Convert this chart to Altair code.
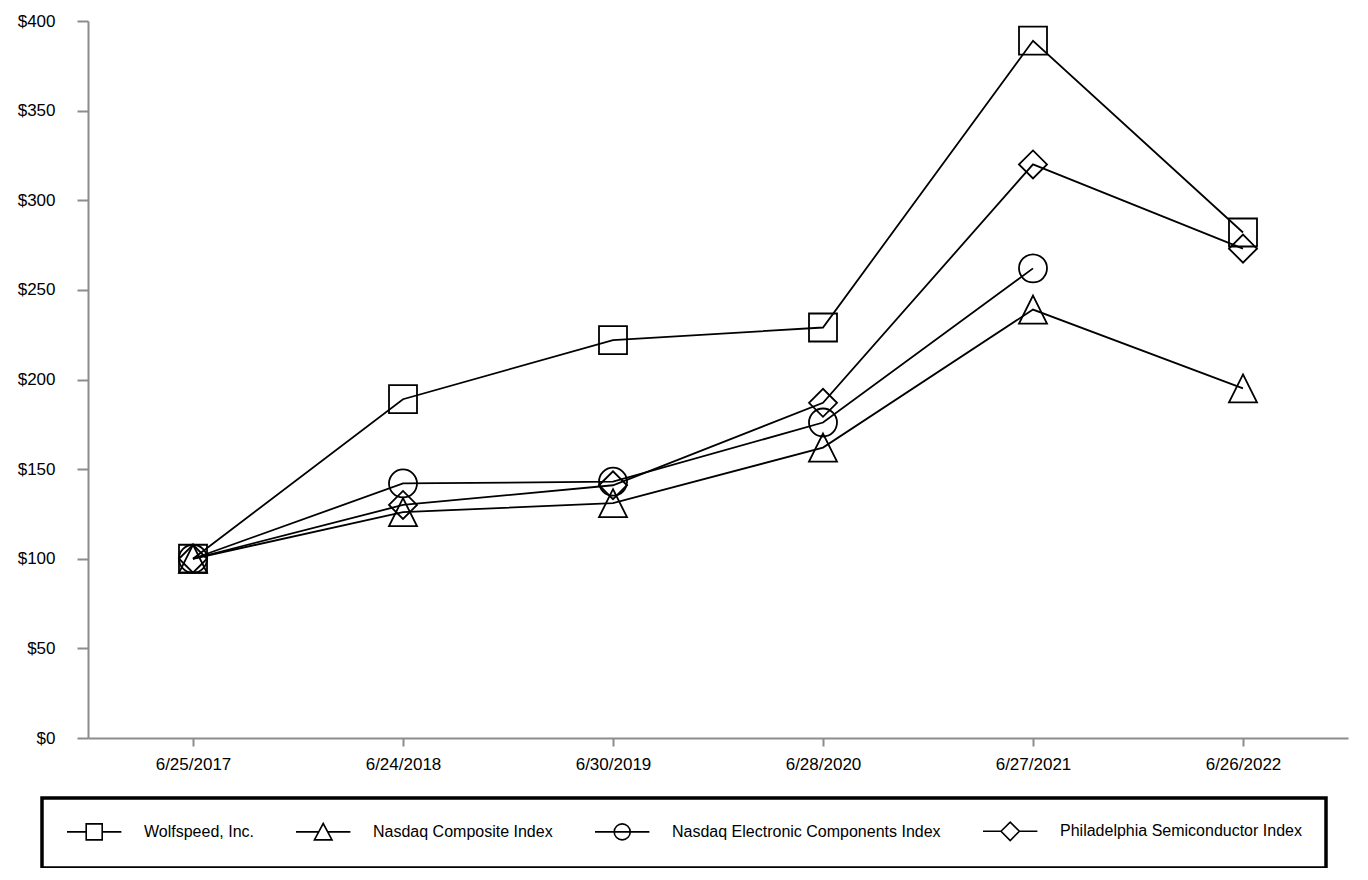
import altair as alt
import pandas as pd

dates = ["6/25/2017", "6/24/2018", "6/30/2019", "6/28/2020", "6/27/2021", "6/26/2022"]
series = [
    "Wolfspeed, Inc.",
    "Nasdaq Composite Index",
    "Nasdaq Electronic Components Index",
    "Philadelphia Semiconductor Index",
]
wolfspeed = [100, 189, 222, 229, 389, 282]
nasdaq = [100, 126, 131, 162, 239, 195]
electronic = [100, 142, 143, 176, 262, None]
phlx = [100, 130, 141, 187, 320, 273]
y_ticks = [0, 50, 100, 150, 200, 250, 300, 350, 400]

rows = []
for name, vals in zip(series, [wolfspeed, nasdaq, electronic, phlx]):
    for i, (d, v) in enumerate(zip(dates, vals)):
        if v is not None:
            rows.append({"date": d, "idx": i, "series": name, "value": v})
df = pd.DataFrame(rows)

markers = ["square", "M0,-1L1,1L-1,1Z", "circle", "diamond"]
legend_paths = [
    "M-1,0H1.4M3.4,0H5.8M1.4,-1H3.4V1H1.4Z",
    "M-1,0H1.85M2.95,0H5.8M2.4,-1.05L3.5,1L1.3,1Z",
    "M-1,0H5.8M1.4,0A1,1 0 1,0 3.4,0A1,1 0 1,0 1.4,0Z",
    "M-1,0H1.25M3.55,0H5.8M1.25,0L2.4,-1.15L3.55,0L2.4,1.15Z",
]

FONT = "Liberation Sans"
x = alt.X(
    "date:O",
    sort=dates,
    scale=alt.Scale(type="point", padding=0.5),
    axis=alt.Axis(title=None, labelAngle=0, tickSize=8, labelPadding=10),
)
y = alt.Y(
    "value:Q",
    scale=alt.Scale(domain=[0, 400], nice=False),
    axis=alt.Axis(title=None, values=y_ticks, format="$.0f", grid=False,
                  tickSize=11, labelPadding=22),
)

base = alt.Chart(df)
lines = base.mark_line(color="black", strokeWidth=1.8).encode(
    x=x, y=y, detail="series:N", order="idx:Q"
)
points = base.mark_point(filled=False, color="black", strokeWidth=1.8, size=784, opacity=1).encode(
    x=x, y=y,
    shape=alt.Shape("series:N", scale=alt.Scale(domain=series, range=markers), legend=None),
)
legend_layer = base.transform_filter("false").mark_point(
    filled=False, color="black", strokeWidth=1.6, opacity=1
).encode(
    shape=alt.Shape(
        "series:N",
        scale=alt.Scale(domain=series, range=legend_paths),
        legend=alt.Legend(
            title=None, orient="none", legendX=-46, legendY=777,
            direction="horizontal", columns=4, symbolSize=256,
            symbolStrokeWidth=1.6, symbolStrokeColor="black",
            symbolFillColor="transparent", symbolOpacity=1,
            labelFont=FONT, labelFontSize=16, labelColor="black",
            labelLimit=400, labelOffset=60, columnPadding=38, padding=24,
            strokeColor="black", fillColor="white",
        ),
    )
)

chart = (
    alt.layer(lines, points, legend_layer)
    .resolve_scale(shape="independent")
    .resolve_legend(shape="independent")
    .properties(
        width=1260, height=717,
        padding={"left": 80, "top": 13, "right": 12, "bottom": 130},
        autosize=alt.AutoSizeParams(type="none"),
    )
    .configure_view(stroke=None)
    .configure_axis(
        domainColor="#8c8c8c", domainWidth=2, tickColor="#8c8c8c", tickWidth=2,
        labelFont=FONT, labelFontSize=17, labelColor="black",
    )
    .configure_legend(strokeWidth=3.5, strokeColor="black")
)

chart.save("out.html", embed_options={"renderer": "svg", "actions": False})
